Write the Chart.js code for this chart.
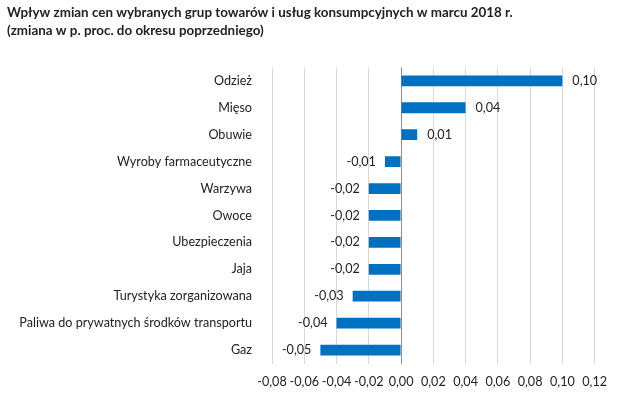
<!DOCTYPE html>
<html>
<head>
<meta charset="utf-8">
<script src="https://cdn.jsdelivr.net/npm/chart.js@4.4.1/dist/chart.umd.min.js"></script>
<style>
  html, body { margin: 0; padding: 0; background: #fff; }
  #chart-container { width: 618px; height: 402px; position: relative; }
</style>
</head>
<body>
<div id="chart-container"><canvas id="price-chart"></canvas></div>
<script>
// categories, top to bottom
const categories = [
    'Odzież', 'Mięso', 'Obuwie', 'Wyroby farmaceutyczne', 'Warzywa', 'Owoce',
    'Ubezpieczenia', 'Jaja', 'Turystyka zorganizowana',
    'Paliwa do prywatnych środków transportu', 'Gaz'
];
// change in percentage points
const values = [0.10, 0.04, 0.01, -0.01, -0.02, -0.02, -0.02, -0.02, -0.03, -0.04, -0.05];
const titleLines = [
    'Wpływ zmian cen wybranych grup towarów i usług konsumpcyjnych w marcu 2018 r.',
    '(zmiana w p. proc. do okresu poprzedniego)'
];
const xMin = -0.08;
const xMax = 0.12;
const xStep = 0.02;

function fmt(v) {
    if (Math.abs(v) < 1e-9) v = 0;
    return v.toFixed(2).replace('.', ',');
}

// draws the value next to each bar
const valueLabels = {
    id: 'valueLabels',
    afterDatasetsDraw(chart) {
        const ctx = chart.ctx;
        const meta = chart.getDatasetMeta(0);
        ctx.save();
        ctx.font = '12.6px Lato';
        ctx.fillStyle = '#222';
        ctx.textBaseline = 'middle';
        meta.data.forEach((bar, i) => {
            const v = values[i];
            if (v >= 0) {
                ctx.textAlign = 'left';
                ctx.fillText(fmt(v), bar.x + 10, bar.y);
            } else {
                ctx.textAlign = 'right';
                ctx.fillText(fmt(v), bar.x - 9, bar.y);
            }
        });
        ctx.restore();
    }
};

const ctx = document.getElementById('price-chart').getContext('2d');
new Chart(ctx, {
    type: 'bar',
    data: {
        labels: categories,
        datasets: [{
            data: values,
            backgroundColor: '#0070c0',
            categoryPercentage: 1,
            barPercentage: 0.4
        }]
    },
    options: {
        indexAxis: 'y',
        responsive: true,
        maintainAspectRatio: false,
        animation: false,
        layout: { padding: { left: 7, right: 22, top: 0, bottom: 0 } },
        plugins: {
            legend: { display: false },
            tooltip: { enabled: false },
            title: {
                display: true,
                text: titleLines,
                align: 'start',
                color: '#222',
                font: { family: 'Lato', size: 13.4, weight: 'bold', lineHeight: 1.32 },
                padding: { top: 4, bottom: 28 }
            }
        },
        scales: {
            x: {
                min: xMin,
                max: xMax,
                afterFit: s => { s.height = 38.5; },
                border: { display: false },
                grid: {
                    drawTicks: false,
                    color: c => (c.tick && Math.abs(c.tick.value) < 1e-9) ? '#8c8c8c' : '#d9d9d9'
                },
                ticks: {
                    stepSize: xStep,
                    padding: 11,
                    maxRotation: 0,
                    minRotation: 0,
                    autoSkip: false,
                    color: '#222',
                    font: { family: 'Lato', size: 12.6 },
                    callback: v => fmt(v)
                }
            },
            y: {
                afterFit: s => { s.width = 265; },
                border: { display: false },
                grid: { display: false, drawTicks: false },
                ticks: {
                    padding: 20,
                    color: '#222',
                    font: { family: 'Lato', size: 12.6 }
                }
            }
        }
    },
    plugins: [valueLabels]
});
</script>
</body>
</html>
